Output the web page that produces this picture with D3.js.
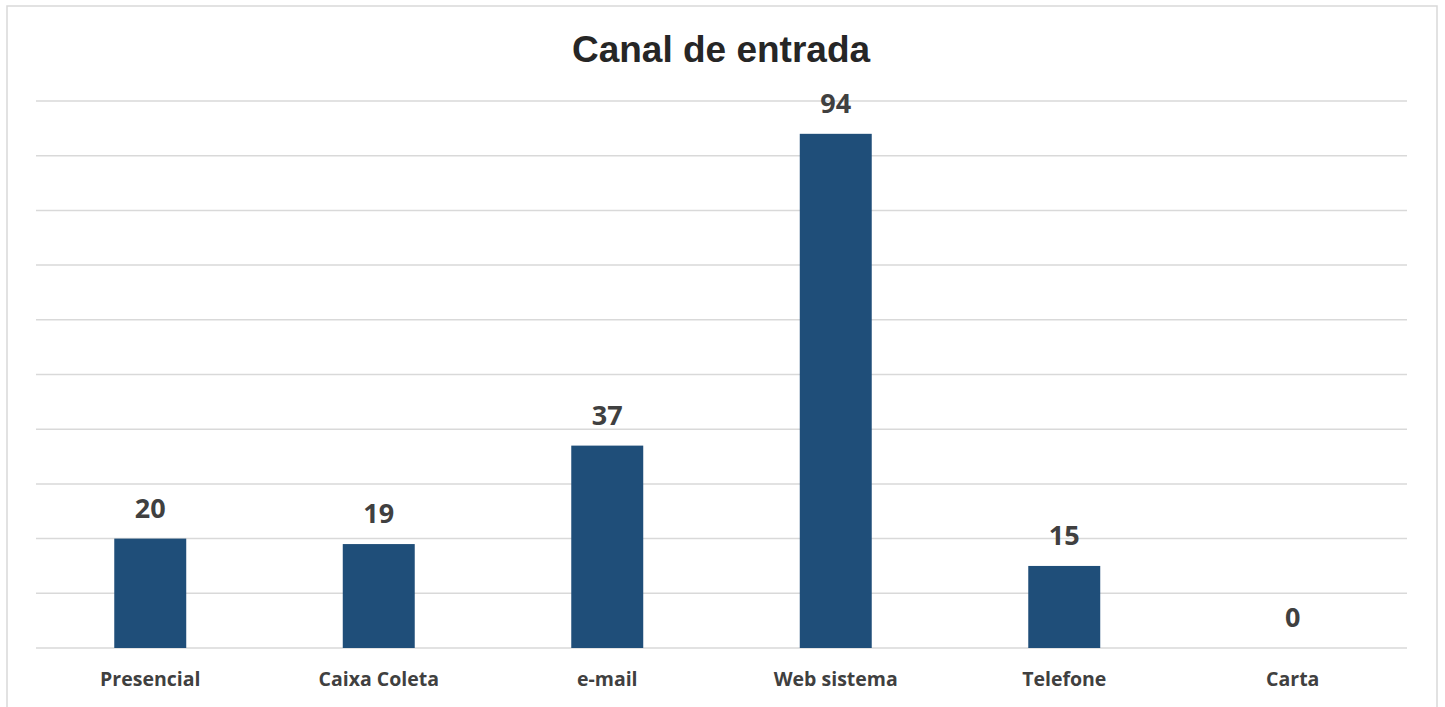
<!DOCTYPE html>
<html>
<head>
<meta charset="utf-8">
<script src="https://cdn.jsdelivr.net/npm/d3@7"></script>
<style>
  body { margin: 0; background: #fff; }
</style>
</head>
<body>
<div id="chart"></div>
<script>
var categories = ["Presencial", "Caixa Coleta", "e-mail", "Web sistema", "Telefone", "Carta"];
var values = [20, 19, 37, 94, 15, 0];
var gridTicks = [0, 10, 20, 30, 40, 50, 60, 70, 80, 90, 100];

var width = 1445;
var height = 707;
var margin = { top: 101, right: 38, bottom: 59, left: 36 };

var svg = d3.select("#chart").append("svg")
  .attr("width", width)
  .attr("height", height);

// chart border
svg.append("rect")
  .attr("x", 7).attr("y", 6)
  .attr("width", 1430).attr("height", 720)
  .attr("fill", "none")
  .attr("stroke", "#d9d9d9")
  .attr("stroke-width", 1.5);

svg.append("text")
  .attr("x", 721).attr("y", 62)
  .attr("text-anchor", "middle")
  .style("font-family", "'Liberation Sans', Arial, sans-serif")
  .style("font-weight", "bold")
  .style("font-size", "37px")
  .attr("fill", "#262626")
  .text("Canal de entrada");

var x = d3.scaleBand()
  .domain(categories)
  .range([margin.left, width - margin.right])
  .paddingInner(0.685)
  .paddingOuter(0.3425);

var y = d3.scaleLinear()
  .domain([0, 100])
  .range([height - margin.bottom, margin.top]);

var g = svg.append("g");

g.selectAll(".grid")
  .data(gridTicks)
  .enter().append("line")
  .attr("class", "grid")
  .attr("x1", margin.left)
  .attr("x2", width - margin.right)
  .attr("y1", function(d) { return y(d); })
  .attr("y2", function(d) { return y(d); })
  .attr("stroke", "#d9d9d9")
  .attr("stroke-width", 1.5);

g.selectAll(".bar")
  .data(values)
  .enter().append("rect")
  .attr("class", "bar")
  .attr("x", function(d, i) { return x(categories[i]); })
  .attr("width", x.bandwidth())
  .attr("y", function(d) { return y(d); })
  .attr("height", function(d) { return y(0) - y(d); })
  .attr("fill", "#1f4e79");

g.selectAll(".val")
  .data(values)
  .enter().append("text")
  .attr("class", "val")
  .attr("x", function(d, i) { return x(categories[i]) + x.bandwidth() / 2; })
  .attr("y", function(d) { return y(d) - 21; })
  .attr("text-anchor", "middle")
  .style("font-family", "'Open Sans', sans-serif")
  .style("font-weight", "bold")
  .style("font-size", "27px")
  .attr("fill", "#404040")
  .text(function(d) { return d; });

var xAxis = d3.axisBottom(x).tickSize(0).tickPadding(0);
var ax = svg.append("g")
  .attr("transform", "translate(0," + (height - margin.bottom) + ")")
  .call(xAxis);
ax.select(".domain").remove();
ax.selectAll("text")
  .attr("dy", null)
  .attr("y", 38)
  .style("font-family", "'Open Sans', sans-serif")
  .style("font-weight", "bold")
  .style("font-size", "19.5px")
  .attr("fill", "#404040");
</script>
</body>
</html>
